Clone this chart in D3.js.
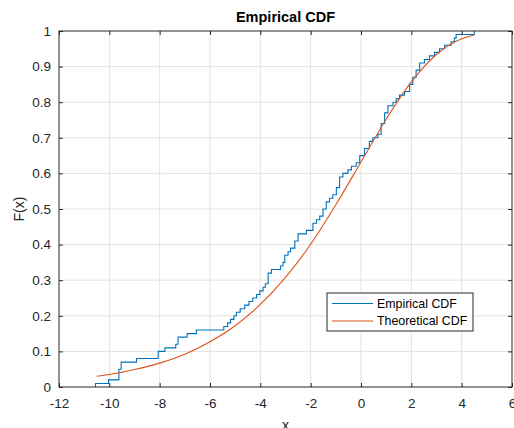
<!doctype html>
<meta charset='utf-8' />
<script src='https://cdn.jsdelivr.net/npm/d3@7/dist/d3.min.js'></script>
<style>
    body { margin: 0; background: #fff; }
    text { font-family: 'Liberation Sans', Arial, sans-serif; }
</style>
<svg></svg>
<script>
    var width = 514,
        height = 428,
        padL = 59, padR = 512, padT = 31, padB = 387

    // empirical CDF, step positions and levels after each step
    var ecdfX = [-10.55, -10.03, -9.62, -9.53, -8.92, -8.06, -7.79, -7.36, -7.27, -6.91,
        -6.54, -5.45, -5.30, -5.18, -5.05, -4.95, -4.80, -4.62, -4.45, -4.30,
        -4.15, -4.02, -3.89, -3.80, -3.69, -3.56, -3.20, -3.10, -3.03, -2.90,
        -2.80, -2.63, -2.50, -2.17, -1.91, -1.77, -1.64, -1.51, -1.38, -1.25,
        -1.12, -0.98, -0.85, -0.72, -0.52, -0.38, -0.19, -0.05, 0.14, 0.33,
        0.47, 0.67, 0.80, 0.94, 1.07, 1.27, 1.40, 1.53, 1.73, 1.93,
        2.06, 2.19, 2.33, 2.52, 2.72, 2.92, 3.12, 3.32, 3.58, 3.71,
        3.78, 4.50]
    var ecdfF = [0.01, 0.02, 0.05, 0.07, 0.08, 0.10, 0.11, 0.12, 0.14, 0.15,
        0.16, 0.17, 0.18, 0.19, 0.20, 0.21, 0.22, 0.23, 0.24, 0.25,
        0.26, 0.27, 0.28, 0.29, 0.32, 0.33, 0.34, 0.35, 0.37, 0.38,
        0.39, 0.41, 0.43, 0.44, 0.46, 0.47, 0.48, 0.50, 0.52, 0.53,
        0.54, 0.56, 0.59, 0.60, 0.61, 0.62, 0.63, 0.65, 0.67, 0.69,
        0.70, 0.71, 0.74, 0.77, 0.79, 0.80, 0.81, 0.82, 0.83, 0.85,
        0.87, 0.89, 0.91, 0.92, 0.93, 0.94, 0.95, 0.96, 0.97, 0.98,
        0.99, 1.00]

    // theoretical CDF, read at a few x positions
    var theoX = [-10.5, -10, -9, -8, -7, -6, -5, -4, -3, -2, -1, 0, 1, 2, 3, 4, 4.5]
    var theoF = [0.030, 0.035, 0.049, 0.067, 0.092, 0.127, 0.172, 0.232, 0.308, 0.401,
        0.512, 0.632, 0.752, 0.857, 0.934, 0.978, 0.989]

    var xTicks = [-12, -10, -8, -6, -4, -2, 0, 2, 4, 6]
    var yTicks = [0, 0.1, 0.2, 0.3, 0.4, 0.5, 0.6, 0.7, 0.8, 0.9, 1]
    var legendLabels = ['Empirical CDF', 'Theoretical CDF']
    var colors = ['#0072BD', '#D95319']

    var svg = d3.select('svg')
        .attr('width', width)
        .attr('height', height)

    var x = d3.scaleLinear().domain([-12, 6]).range([padL, padR])
    var y = d3.scaleLinear().domain([0, 1]).range([padB, padT])

    // grid
    svg.append('g').selectAll('line')
        .data(xTicks.slice(1, -1))
        .enter().append('line')
        .attr('x1', d => x(d)).attr('x2', d => x(d))
        .attr('y1', padT).attr('y2', padB)
        .style('stroke', '#e3e3e3')
    svg.append('g').selectAll('line')
        .data(yTicks.slice(1, -1))
        .enter().append('line')
        .attr('y1', d => y(d)).attr('y2', d => y(d))
        .attr('x1', padL).attr('x2', padR)
        .style('stroke', '#e3e3e3')

    // lines
    var ecdfPts = [[ecdfX[0], 0]].concat(ecdfX.map((v, i) => [v, ecdfF[i]]))
    svg.append('path')
        .datum(ecdfPts)
        .attr('d', d3.line().x(d => x(d[0])).y(d => y(d[1])).curve(d3.curveStepAfter))
        .style('fill', 'none')
        .style('stroke', colors[0])
        .style('stroke-width', 1.1)

    svg.append('path')
        .datum(theoX.map((v, i) => [v, theoF[i]]))
        .attr('d', d3.line().x(d => x(d[0])).y(d => y(d[1])).curve(d3.curveMonotoneX))
        .style('fill', 'none')
        .style('stroke', colors[1])
        .style('stroke-width', 1.1)

    // axes, ticks inside on all sides
    function styleAxis(g) {
        g.select('.domain').remove()
        g.selectAll('line').style('stroke', '#262626')
        g.selectAll('text').style('fill', '#262626').style('font-size', '13.5px')
            .style('font-family', "'Liberation Sans', Arial, sans-serif")
    }
    svg.append('g').attr('transform', 'translate(0,' + padB + ')')
        .call(d3.axisBottom(x).tickValues(xTicks).tickSize(-4).tickPadding(11).tickFormat(d => String(d)))
        .call(styleAxis)
    svg.append('g').attr('transform', 'translate(0,' + padT + ')')
        .call(d3.axisTop(x).tickValues(xTicks).tickSize(-4).tickFormat(''))
        .call(styleAxis)
    svg.append('g').attr('transform', 'translate(' + padL + ',0)')
        .call(d3.axisLeft(y).tickValues(yTicks).tickSize(-4).tickPadding(8).tickFormat(d => String(d)))
        .call(styleAxis)
    svg.append('g').attr('transform', 'translate(' + padR + ',0)')
        .call(d3.axisRight(y).tickValues(yTicks).tickSize(-4).tickFormat(''))
        .call(styleAxis)

    svg.append('rect')
        .attr('x', padL).attr('y', padT)
        .attr('width', padR - padL).attr('height', padB - padT)
        .style('fill', 'none')
        .style('stroke', '#262626')
        .style('stroke-width', 1)

    // labels
    svg.append('text')
        .attr('x', (padL + padR) / 2).attr('y', 22)
        .attr('text-anchor', 'middle')
        .style('font-size', '14.5px').style('font-weight', 'bold')
        .style('fill', '#000')
        .text('Empirical CDF')
    svg.append('text')
        .attr('transform', 'translate(24,' + (padT + padB) / 2 + ') rotate(-90)')
        .attr('text-anchor', 'middle')
        .style('font-size', '14px').style('fill', '#262626')
        .text('F(x)')
    svg.append('text')
        .attr('x', (padL + padR) / 2).attr('y', 430)
        .attr('text-anchor', 'middle')
        .style('font-size', '14px').style('fill', '#262626')
        .text('x')

    // legend
    var lg = svg.append('g').attr('transform', 'translate(327,293)')
    lg.append('rect')
        .attr('width', 146).attr('height', 38)
        .style('fill', '#fff')
        .style('stroke', '#262626')
        .style('stroke-width', 1)
    var rows = lg.selectAll('g.row')
        .data(legendLabels)
        .enter().append('g')
        .attr('transform', (d, i) => 'translate(0,' + (10.5 + i * 17.5) + ')')
    rows.append('line')
        .attr('x1', 5).attr('x2', 46)
        .style('stroke', (d, i) => colors[i])
        .style('stroke-width', 1.1)
    rows.append('text')
        .attr('x', 50).attr('dy', '0.35em')
        .style('font-size', '12.4px').style('fill', '#000')
        .text(d => d)
</script>
